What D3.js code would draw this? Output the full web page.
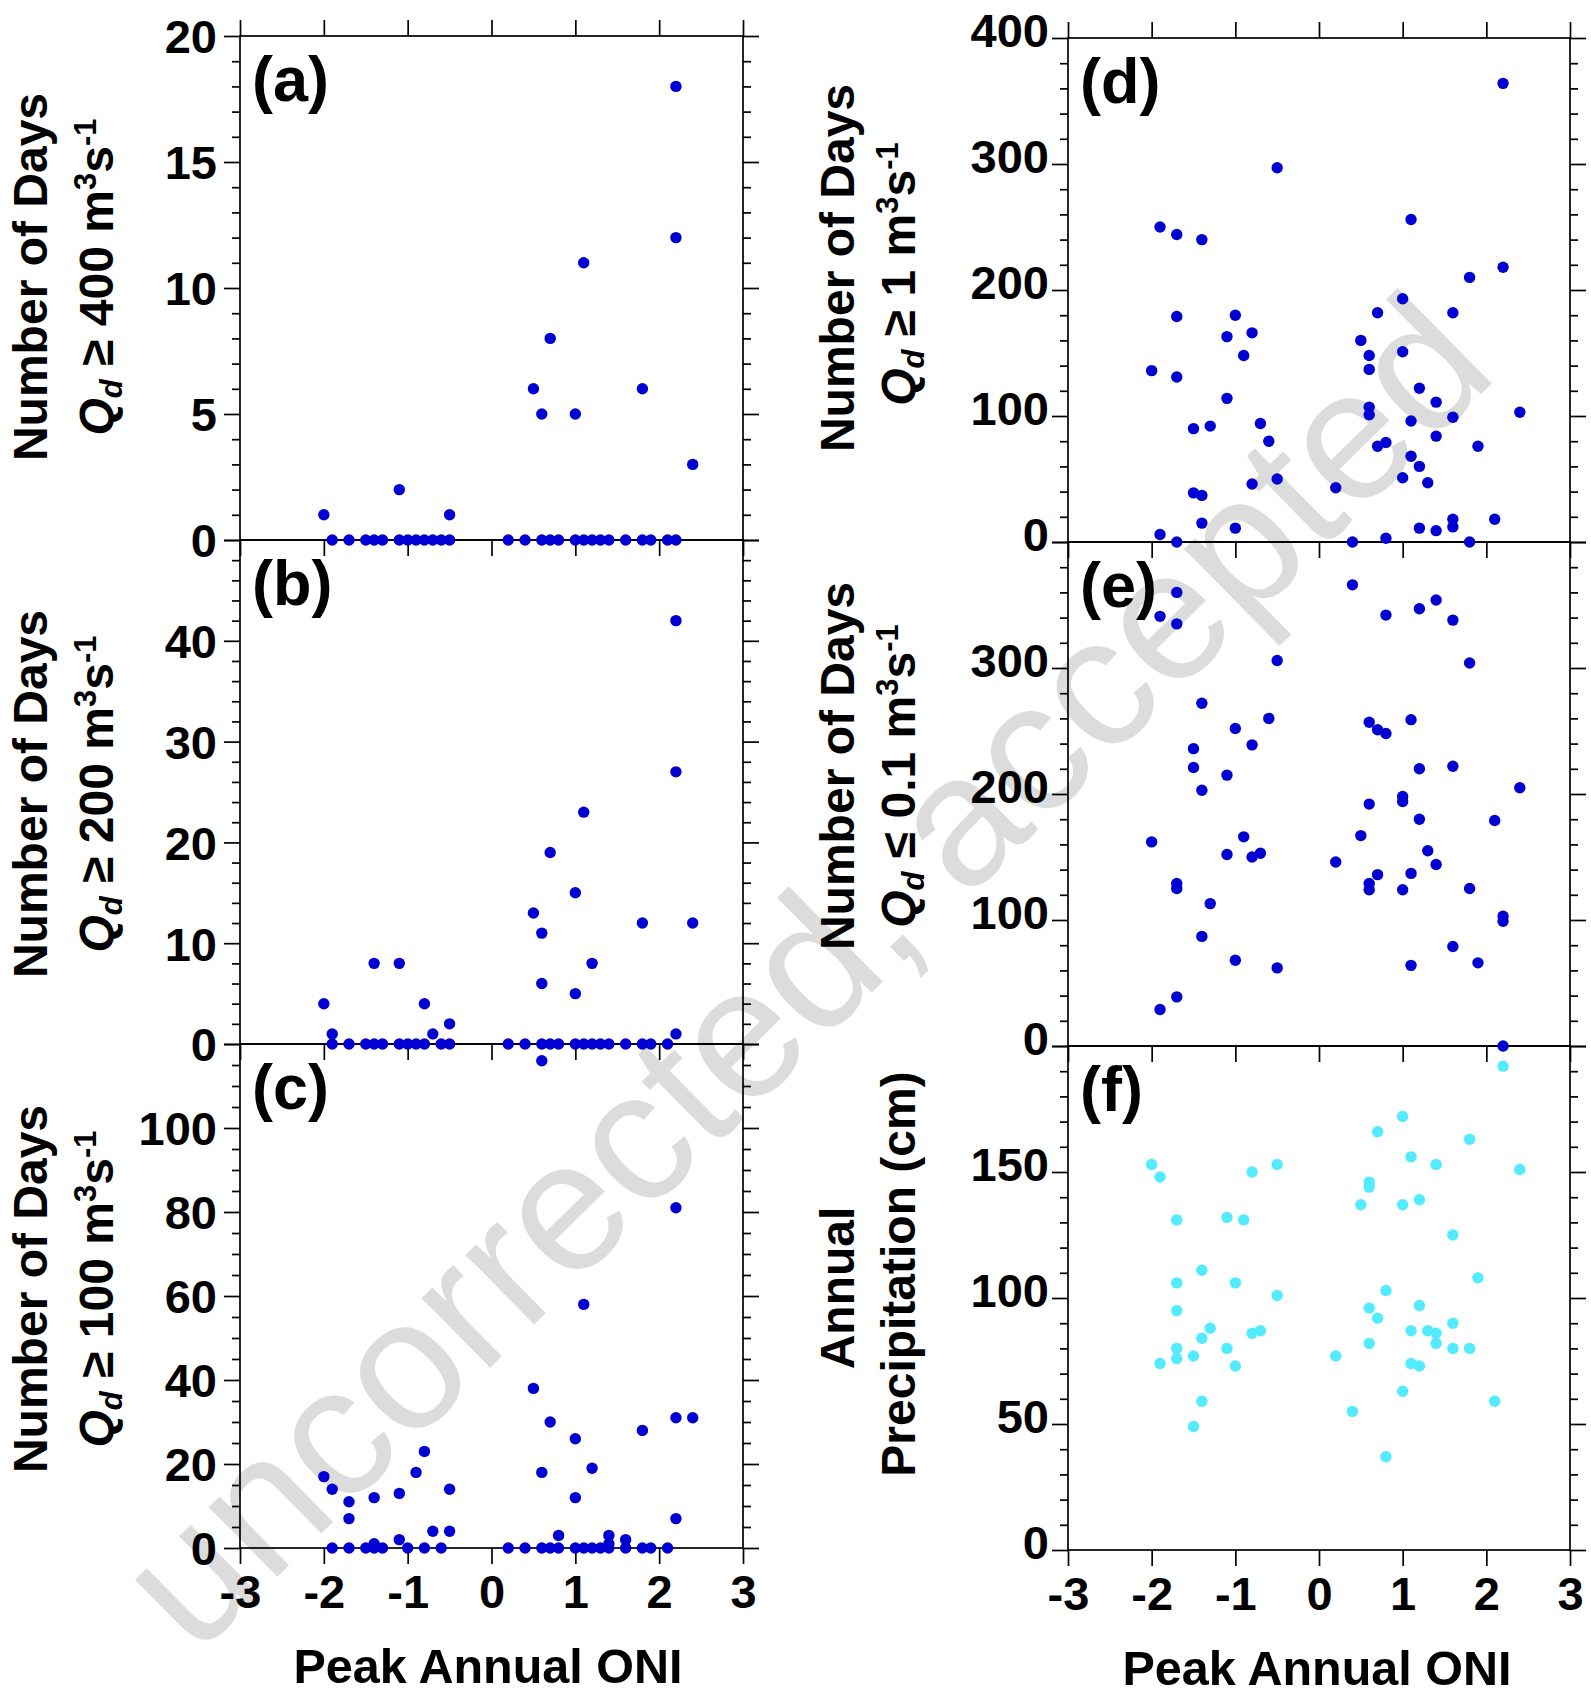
<!DOCTYPE html>
<html><head><meta charset="utf-8">
<script src="https://cdn.jsdelivr.net/npm/d3@7"></script>
<style>
html,body{margin:0;padding:0;background:#fff;}
svg{display:block;}
</style></head><body>
<svg id="chart" width="1591" height="1695"></svg>
<script>
// ---------------- data ----------------
const oniTicks = [-3, -2, -1, 0, 1, 2, 3];
const oniLabels = ["-3", "-2", "-1", "0", "1", "2", "3"];

// (a) days Qd >= 400 m3/s  [peak annual ONI, days]
const daysQ400 = [[-2.0,1],[-1.9,0],[-1.7,0],[-1.5,0],[-1.4,0],[-1.3,0],[-1.1,2],[-1.1,0],[-1.0,0],[-0.9,0],[-0.8,0],[-0.7,0],[-0.6,0],[-0.5,1],[-0.5,0],
 [0.2,0],[0.4,0],[0.5,6],[0.6,5],[0.6,0],[0.7,8],[0.7,0],[0.8,0],[1.0,5],[1.0,0],[1.1,11],[1.1,0],[1.2,0],[1.3,0],[1.4,0],[1.6,0],[1.8,6],[1.8,0],[1.9,0],[2.1,0],[2.2,18],[2.2,12],[2.2,0],[2.4,3]];
// (b) days Qd >= 200 m3/s
const daysQ200 = [[-2.0,4],[-1.9,1],[-1.9,0],[-1.7,0],[-1.5,0],[-1.4,8],[-1.4,0],[-1.3,0],[-1.1,8],[-1.1,0],[-1.0,0],[-0.9,0],[-0.8,4],[-0.8,0],[-0.7,1],[-0.6,0],[-0.5,2],[-0.5,0],
 [0.2,0],[0.4,0],[0.5,13],[0.6,11],[0.6,6],[0.6,0],[0.7,19],[0.7,0],[0.8,0],[1.0,15],[1.0,5],[1.0,0],[1.1,23],[1.1,0],[1.2,8],[1.2,0],[1.3,0],[1.4,0],[1.6,0],[1.8,12],[1.8,0],[1.9,0],[2.1,0],[2.2,42],[2.2,27],[2.2,1],[2.4,12]];
// (c) days Qd >= 100 m3/s
const daysQ100 = [[-2.0,17],[-1.9,14],[-1.9,0],[-1.7,11],[-1.7,7],[-1.7,0],[-1.5,0],[-1.4,12],[-1.4,1],[-1.4,0],[-1.3,0],[-1.1,13],[-1.1,2],[-1.0,0],[-0.9,18],[-0.8,23],[-0.8,0],[-0.7,4],[-0.6,0],[-0.5,14],[-0.5,4],
 [0.2,0],[0.4,0],[0.5,38],[0.6,116],[0.6,18],[0.6,0],[0.7,30],[0.7,0],[0.8,3],[0.8,0],[1.0,26],[1.0,12],[1.0,0],[1.1,58],[1.1,0],[1.2,19],[1.2,0],[1.3,0],[1.4,3],[1.4,1],[1.4,0],[1.6,2],[1.6,0],[1.8,28],[1.8,0],[1.9,0],[2.1,0],[2.2,81],[2.2,31],[2.2,7],[2.4,31]];
// (d) days Qd >= 1 m3/s
const daysQ1 = [[-2.0,136],[-1.9,250],[-1.9,6],[-1.7,244],[-1.7,179],[-1.7,131],[-1.7,0],[-1.5,90],[-1.5,39],[-1.4,240],[-1.4,37],[-1.4,15],[-1.3,92],[-1.1,163],[-1.1,114],[-1.0,180],[-1.0,11],[-0.9,148],[-0.8,166],[-0.8,46],[-0.7,94],[-0.6,80],[-0.5,297],[-0.5,50],
 [0.2,43],[0.4,0],[0.5,160],[0.6,148],[0.6,137],[0.6,107],[0.6,101],[0.7,182],[0.7,76],[0.8,79],[0.8,3],[1.0,193],[1.0,151],[1.0,51],[1.1,256],[1.1,96],[1.1,68],[1.2,122],[1.2,60],[1.2,11],[1.3,47],[1.4,111],[1.4,84],[1.4,9],[1.6,182],[1.6,99],[1.6,18],[1.6,12],[1.8,210],[1.8,0],[1.9,76],[2.1,18],[2.2,364],[2.2,218],[2.4,103]];
// (e) days Qd <= 0.1 m3/s
const daysQ01 = [[-2.0,162],[-1.9,341],[-1.9,29],[-1.7,360],[-1.7,335],[-1.7,129],[-1.7,125],[-1.7,39],[-1.5,236],[-1.5,221],[-1.4,272],[-1.4,203],[-1.4,87],[-1.3,113],[-1.1,215],[-1.1,152],[-1.0,252],[-1.0,68],[-0.9,166],[-0.8,239],[-0.8,150],[-0.7,153],[-0.6,260],[-0.5,306],[-0.5,62],
 [0.2,146],[0.4,366],[0.5,167],[0.6,257],[0.6,192],[0.6,129],[0.6,124],[0.7,251],[0.7,136],[0.8,342],[0.8,248],[1.0,198],[1.0,194],[1.0,124],[1.1,259],[1.1,137],[1.1,64],[1.2,347],[1.2,220],[1.2,180],[1.3,155],[1.4,354],[1.4,144],[1.6,338],[1.6,222],[1.6,79],[1.8,304],[1.8,125],[1.9,66],[2.1,179],[2.2,103],[2.2,99],[2.2,0],[2.4,205]];
// (f) annual precipitation (cm)
const precipCm = [[-2.0,153],[-1.9,148],[-1.9,74],[-1.7,131],[-1.7,106],[-1.7,95],[-1.7,80],[-1.7,76],[-1.5,77],[-1.5,49],[-1.4,111],[-1.4,84],[-1.4,59],[-1.3,88],[-1.1,132],[-1.1,80],[-1.0,106],[-1.0,73],[-0.9,131],[-0.8,150],[-0.8,86],[-0.7,87],[-0.5,153],[-0.5,101],
 [0.2,77],[0.4,55],[0.5,137],[0.6,146],[0.6,144],[0.6,96],[0.6,82],[0.7,166],[0.7,92],[0.8,103],[0.8,37],[1.0,172],[1.0,137],[1.0,63],[1.1,156],[1.1,87],[1.1,74],[1.2,139],[1.2,97],[1.2,73],[1.3,87],[1.4,153],[1.4,86],[1.4,82],[1.6,125],[1.6,90],[1.6,80],[1.8,163],[1.8,80],[1.9,108],[2.1,59],[2.2,192],[2.4,151]];

// y axis domains and ticks
const yMaxes   = [20, 50, 120, 400, 400, 200];
const yMajors  = [[0,5,10,15,20],[0,10,20,30,40,50],[0,20,40,60,80,100,120],[0,100,200,300,400],[0,100,200,300,400],[0,50,100,150,200]];
const yLabels  = [[0,5,10,15,20],[0,10,20,30,40],[0,20,40,60,80,100],[0,100,200,300,400],[0,100,200,300],[0,50,100,150]];
const yMinorSteps = [1, 2, 5, 20, 20, 10];
const panelTags = ["(a)","(b)","(c)","(d)","(e)","(f)"];
const xTitle = "Peak Annual ONI";
const watermark = "uncorrected, accepted";

// ---------------- drawing ----------------
const FONT = "'Liberation Sans', Arial, Helvetica, sans-serif";
const BLUE = "#0000D2", CYAN = "#52EBFF";
const svg = d3.select("#chart");

// watermark (behind everything)
svg.append("text")
  .attr("transform", "translate(814,982) rotate(-44.5)")
  .attr("text-anchor", "middle").attr("dy", "0.26em")
  .attr("font-family", FONT).attr("font-size", 185)
  .attr("fill", "#dcdcdc").text(watermark);

const cols = [{x0:240, x1:743}, {x0:1068, x1:1570}];
const rowTops = [[36, 540, 1044], [38, 542, 1046]];
const PH = 504;
const dataSets = [daysQ400, daysQ200, daysQ100, daysQ1, daysQ01, precipCm];
const colors = [BLUE, BLUE, BLUE, BLUE, BLUE, CYAN];
const SW = 1.7;

function styleAxis(g) {
  g.select(".domain").remove();
  g.selectAll("line").attr("stroke", "#000").attr("stroke-width", SW);
  g.attr("font-family", FONT).attr("font-size", 47).attr("font-weight", "bold");
  g.selectAll("text").attr("fill", "#000");
}

for (let i = 0; i < 6; i++) {
  const c = Math.floor(i / 3), r = i % 3;
  const {x0, x1} = cols[c];
  const top = rowTops[c][r], bot = top + PH;
  const x = d3.scaleLinear().domain([-3, 3]).range([x0, x1]);
  const y = d3.scaleLinear().domain([0, yMaxes[i]]).range([bot, top]);
  const g = svg.append("g");
  const minor = d3.range(0, yMaxes[i] + 1e-9, yMinorSteps[i]).filter(v => !yMajors[i].includes(v));
  const lab = yLabels[i];

  // minor ticks
  g.append("g").attr("transform", `translate(${x0},0)`)
    .call(d3.axisLeft(y).tickValues(minor).tickSize(8).tickFormat("")).call(styleAxis);
  g.append("g").attr("transform", `translate(${x1},0)`)
    .call(d3.axisRight(y).tickValues(minor).tickSize(8).tickFormat("")).call(styleAxis);
  // major ticks
  const la = g.append("g").attr("transform", `translate(${x0},0)`)
    .call(d3.axisLeft(y).tickValues(yMajors[i]).tickSize(16).tickPadding(c === 0 ? 7 : 3)
      .tickFormat(v => lab.includes(v) ? String(v) : "")).call(styleAxis);
  la.selectAll("text").attr("dy", "0.36em").attr("y", c === 0 ? 0 : -8);
  g.append("g").attr("transform", `translate(${x1},0)`)
    .call(d3.axisRight(y).tickValues(yMajors[i]).tickSize(16).tickFormat("")).call(styleAxis);
  // x ticks
  const bx = g.append("g").attr("transform", `translate(0,${bot})`)
    .call(d3.axisBottom(x).tickValues(oniTicks).tickSize(16).tickPadding(11)
      .tickFormat((v, k) => r === 2 ? oniLabels[k] : "")).call(styleAxis);
  bx.selectAll("text").attr("dy", "0.71em");
  if (r === 0) {
    g.append("g").attr("transform", `translate(0,${top})`)
      .call(d3.axisTop(x).tickValues(oniTicks).tickSize(16).tickFormat("")).call(styleAxis);
  }
  // frame
  g.append("rect").attr("x", x0).attr("y", top).attr("width", x1 - x0).attr("height", PH)
    .attr("fill", "none").attr("stroke", "#000").attr("stroke-width", SW);

  // panel tag
  g.append("text").attr("x", x0 + 12).attr("y", top + 65)
    .attr("font-family", FONT).attr("font-weight", "bold").attr("font-size", 63)
    .text(panelTags[i]);
}

// points (after all axes so they sit on top)
for (let i = 0; i < 6; i++) {
  const c = Math.floor(i / 3), r = i % 3;
  const {x0, x1} = cols[c];
  const top = rowTops[c][r], bot = top + PH;
  const x = d3.scaleLinear().domain([-3, 3]).range([x0, x1]);
  const y = d3.scaleLinear().domain([0, yMaxes[i]]).range([bot, top]);
  svg.append("g").selectAll("circle").data(dataSets[i]).join("circle")
    .attr("cx", d => x(d[0])).attr("cy", d => y(d[1])).attr("r", 5.7)
    .attr("fill", colors[i]);
}

// axis titles
function ytitle(xp, yp, build) {
  const t = svg.append("text").attr("transform", `translate(${xp},${yp}) rotate(-90)`)
    .attr("text-anchor", "middle").attr("font-family", FONT).attr("font-weight", "bold")
    .attr("font-size", 48).attr("fill", "#000");
  build(t);
}
function plain(s) { return t => t.text(s); }
function qline(rest) {
  return t => {
    t.append("tspan").attr("font-style", "italic").text("Q");
    t.append("tspan").attr("font-style", "italic").attr("font-size", 31).attr("dy", 9).text("d");
    t.append("tspan").attr("dy", -9).text(" " + rest + " m");
    t.append("tspan").attr("font-size", 31).attr("dy", -17).text("3");
    t.append("tspan").attr("dy", 17).text("s");
    t.append("tspan").attr("font-size", 31).attr("dy", -17).text("-1");
  };
}
ytitle(47, 277, plain("Number of Days"));
ytitle(113, 277, qline("\u2265 400"));
ytitle(47, 794, plain("Number of Days"));
ytitle(113, 794, qline("\u2265 200"));
ytitle(47, 1289, plain("Number of Days"));
ytitle(113, 1289, qline("\u2265 100"));
ytitle(854, 268, plain("Number of Days"));
ytitle(915, 274, qline("\u2265 1"));
ytitle(854, 766, plain("Number of Days"));
ytitle(915, 776, qline("\u2264 0.1"));
ytitle(854, 1288, plain("Annual"));
ytitle(915, 1274, plain("Precipitation (cm)"));

svg.append("text").attr("x", 488).attr("y", 1683).attr("text-anchor", "middle")
  .attr("font-family", FONT).attr("font-weight", "bold").attr("font-size", 48.5).text(xTitle);
svg.append("text").attr("x", 1317).attr("y", 1685).attr("text-anchor", "middle")
  .attr("font-family", FONT).attr("font-weight", "bold").attr("font-size", 48.5).text(xTitle);
</script>
</body></html>
